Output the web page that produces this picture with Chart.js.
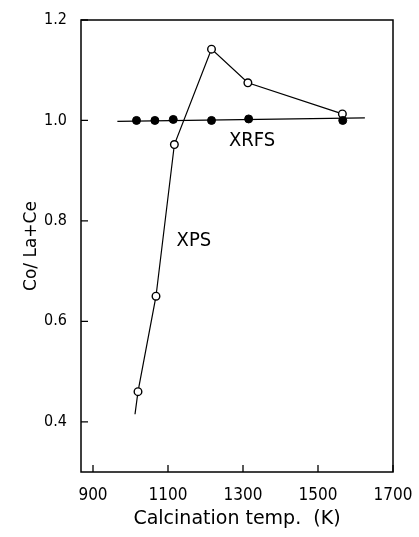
<!DOCTYPE html>
<html>
<head>
<meta charset="utf-8">
<script src="https://cdn.jsdelivr.net/npm/chart.js@4.4.1/dist/chart.umd.min.js"></script>
<style>
  html, body { margin: 0; padding: 0; background: #fff; }
</style>
</head>
<body>
<canvas id="calcChart" width="419" height="537"></canvas>
<script>
// XPS surface ratio (open circles); first entry is the tail end of the drawn line
const xpsTemps = [1012, 1020, 1068, 1117, 1216, 1313, 1565];
const xpsRatio = [0.415, 0.46, 0.65, 0.952, 1.142, 1.075, 1.013];

// XRFS bulk ratio (filled circles) and its straight guide line
const xrfsTemps = [1016, 1065, 1114, 1216, 1315, 1566];
const xrfsRatio = [1.0, 1.0, 1.002, 1.0, 1.003, 1.0];
const xrfsLineTemps = [965, 1625];
const xrfsLineRatio = [0.998, 1.005];

const xTicks = [900, 1100, 1300, 1500, 1700];
const yTicks = [0.4, 0.6, 0.8, 1.0, 1.2];

const seriesNotes = [
    { text: "XPS", temp: 1169, ratio: 0.76 },
    { text: "XRFS", temp: 1324, ratio: 0.96 }
];

const narrow = "'Liberation Sans Narrow', 'DejaVu Sans Condensed', sans-serif";
const wide = "'DejaVu Sans', sans-serif";

function pairs(xs, ys) {
    return xs.map(function (x, i) { return { x: x, y: ys[i] }; });
}

// box round the plot, inward tick marks and the series names
const framePlugin = {
    id: "frame",
    afterDraw(chart) {
        const ctx = chart.ctx;
        const a = chart.chartArea;
        const xs = chart.scales.x;
        const ys = chart.scales.y;
        ctx.save();
        ctx.strokeStyle = "#000";
        ctx.lineWidth = 1.5;
        ctx.strokeRect(a.left, a.top, a.right - a.left, a.bottom - a.top);
        ctx.lineWidth = 1.3;
        ctx.beginPath();
        xTicks.forEach(function (t) {
            const px = xs.getPixelForValue(t);
            ctx.moveTo(px, a.bottom);
            ctx.lineTo(px, a.bottom - 7);
        });
        yTicks.forEach(function (t) {
            const py = ys.getPixelForValue(t);
            ctx.moveTo(a.left, py);
            ctx.lineTo(a.left + 7, py);
        });
        ctx.stroke();

        ctx.fillStyle = "#000";
        ctx.textAlign = "center";
        ctx.textBaseline = "middle";
        ctx.font = "20px " + narrow;
        seriesNotes.forEach(function (n) {
            ctx.fillText(n.text, xs.getPixelForValue(n.temp), ys.getPixelForValue(n.ratio));
        });
        ctx.restore();
    }
};

new Chart(document.getElementById("calcChart"), {
    type: "scatter",
    data: {
        datasets: [
            {
                label: "XRFS line",
                data: pairs(xrfsLineTemps, xrfsLineRatio),
                showLine: true,
                borderColor: "#000",
                borderWidth: 1.2,
                pointRadius: 0
            },
            {
                label: "XRFS",
                data: pairs(xrfsTemps, xrfsRatio),
                showLine: false,
                pointRadius: 4,
                pointBackgroundColor: "#000",
                pointBorderColor: "#000",
                pointBorderWidth: 1
            },
            {
                label: "XPS",
                data: pairs(xpsTemps, xpsRatio),
                showLine: true,
                borderColor: "#000",
                borderWidth: 1.2,
                pointRadius: function (c) { return c.dataIndex === 0 ? 0 : 3.8; },
                pointBackgroundColor: "#fff",
                pointBorderColor: "#000",
                pointBorderWidth: 1.4
            }
        ]
    },
    options: {
        responsive: false,
        animation: false,
        layout: { padding: { left: 17, top: 20, right: 26, bottom: 3 } },
        plugins: {
            legend: { display: false },
            tooltip: { enabled: false }
        },
        scales: {
            x: {
                type: "linear",
                min: 868,
                max: 1700,
                afterBuildTicks: function (s) { s.ticks = xTicks.map(function (v) { return { value: v }; }); },
                afterFit: function (s) {
                    s.height = 62;
                    s.paddingLeft = 0;
                    s.paddingRight = 0;
                },
                grid: { display: false, drawTicks: false },
                border: { display: false },
                ticks: {
                    color: "#000",
                    padding: 13,
                    maxRotation: 0,
                    font: { family: narrow, size: 17 },
                    callback: function (v) { return String(v); }
                },
                title: {
                    display: true,
                    text: "Calcination temp.  (K)",
                    color: "#000",
                    font: { family: wide, size: 19 }
                }
            },
            y: {
                type: "linear",
                min: 0.3,
                max: 1.2,
                afterBuildTicks: function (s) { s.ticks = yTicks.map(function (v) { return { value: v }; }); },
                afterFit: function (s) {
                    s.width = 64;
                    s.paddingTop = 0;
                    s.paddingBottom = 0;
                },
                grid: { display: false, drawTicks: false },
                border: { display: false },
                ticks: {
                    color: "#000",
                    padding: 14,
                    font: { family: narrow, size: 16 },
                    callback: function (v) { return v.toFixed(1); }
                },
                title: {
                    display: true,
                    text: "Co/ La+Ce",
                    color: "#000",
                    font: { family: wide, size: 17 }
                }
            }
        }
    },
    plugins: [framePlugin]
});
</script>
</body>
</html>
